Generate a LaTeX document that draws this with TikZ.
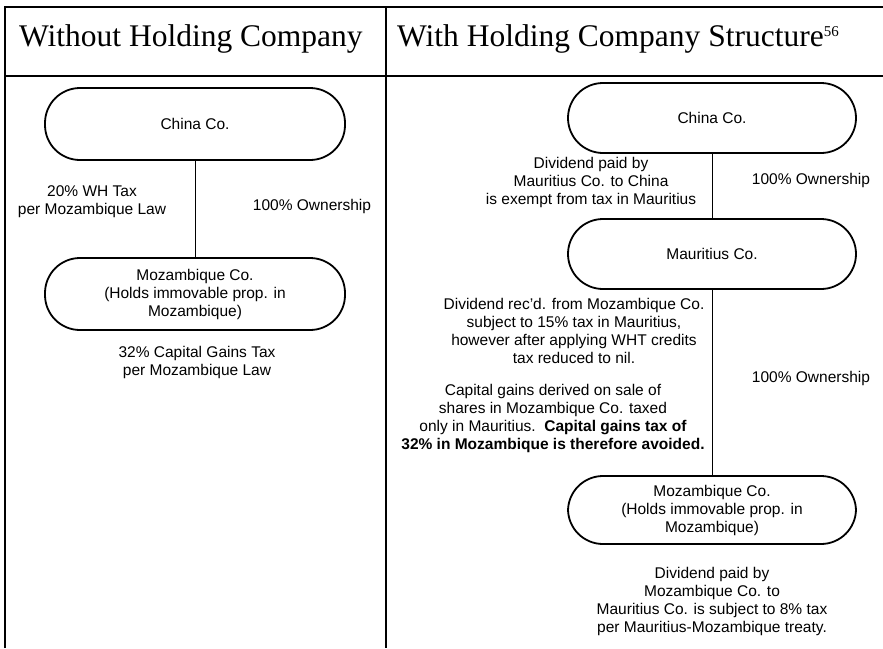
\documentclass[tikz,border=0pt]{standalone}
\usepackage{fontspec}
\setmainfont{Liberation Serif}
\newfontfamily\bodyfont{Liberation Sans}
\begin{document}
\begin{tikzpicture}[x=1pt,y=-1pt,
  entity/.style={draw, line width=1.8pt, rounded corners=35pt, minimum width=300pt,
    minimum height=72pt, align=center, inner sep=2pt},
  note/.style={align=center, inner sep=0pt},
  link/.style={line width=1pt},
  grid/.style={line width=2pt},
  heading/.style={anchor=base west, inner sep=0pt, font=\rmfamily\fontsize{31.5}{34}\selectfont},
  every node/.style={font=\bodyfont\fontsize{15.5}{18}\selectfont}]
\useasboundingbox (0,0) rectangle (883,648);

% table frame
\draw[grid] (5,648) -- (5,7) -- (884,7);
\draw[grid] (5,76) -- (884,76);
\draw[grid] (386,7) -- (386,648);

% column headings
\node[heading] (hleft) at (19,46) {Without Holding Company};
\node[heading] (hright) at (397,46) {With Holding Company Structure\textsuperscript{\fontsize{15}{16}\selectfont 56}};

% left column: direct holding
\node[entity] (lchina) at (195,124) {China Co.};
\node[entity] (lmoz) at (195,294) {Mozambique Co.\\(Holds immovable prop. in\\Mozambique)};
\draw[link] (lchina) -- (lmoz);
\node[note] (lwht) at (92,202) {20\% WH Tax\\per Mozambique Law};
\node[note] (lown) at (312,206) {100\% Ownership};
\node[note] (lcgt) at (197,362) {32\% Capital Gains Tax\\per Mozambique Law};

% right column: holding via Mauritius
\node[entity, minimum width=288pt, minimum height=70pt] (rchina) at (712,118) {China Co.};
\node[entity, minimum width=288pt, minimum height=70pt] (rmau) at (712,254) {Mauritius Co.};
\node[entity, minimum width=288pt, minimum height=68pt] (rmoz) at (712,510) {Mozambique Co.\\(Holds immovable prop. in\\Mozambique)};
\draw[link] (rchina) -- (rmau);
\draw[link] (rmau) -- (rmoz);

\node[note] (rdiv1) at (591,182) {Dividend paid by\\Mauritius Co. to China\\is exempt from tax in Mauritius};
\node[note] (rown1) at (811,180) {100\% Ownership};
\node[note] (rdiv2) at (574,331) {Dividend rec’d. from Mozambique Co.\\subject to 15\% tax in Mauritius,\\however after applying WHT credits\\tax reduced to nil.};
\node[note] (rown2) at (811,378) {100\% Ownership};
\node[note] (rcg) at (553,418) {Capital gains derived on sale of\\shares in Mozambique Co. taxed\\only in Mauritius.\ \ \textbf{Capital gains tax of}\\\textbf{32\% in Mozambique is therefore avoided.}};
\node[note] (rdiv3) at (712,601) {Dividend paid by\\Mozambique Co. to\\Mauritius Co. is subject to 8\% tax\\per Mauritius-Mozambique treaty.};
\end{tikzpicture}
\end{document}
